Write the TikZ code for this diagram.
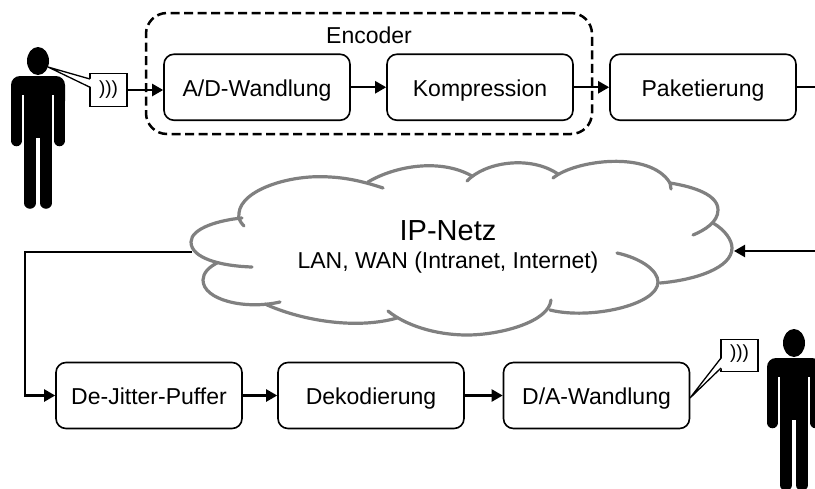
\documentclass[tikz,border=0pt]{standalone}
\usepackage{fontspec}
\setmainfont{Liberation Sans}
\usetikzlibrary{arrows.meta}
\tikzset{
  x=1pt,y=-1pt,
  procbox/.style={draw=black,line width=1.6pt,rounded corners=10pt,minimum width=186pt,minimum height=66pt,inner sep=0pt,text height=22pt,text depth=4.5pt,font=\fontsize{23}{26}\selectfont},
  flow/.style={line width=2.2pt,-{Triangle[length=11pt,width=12pt]}},
  plainflow/.style={line width=2.2pt},
  lobe/.style={draw=cloudgray,line width=3.2pt,line cap=round,line join=round},
  speaker/.style={draw=black,fill=white,line width=1.3pt},
  waves/.style={inner sep=0pt,font=\fontsize{19}{21}\selectfont},
  limb/.style={line width=11.5pt,line cap=round,draw=black}
}
\definecolor{cloudgray}{RGB}{128,128,128}
\newcommand{\drawperson}[2]{%
  \begin{scope}[shift={(#1,#2)}]
    \fill[black] (38,61) ellipse [x radius=11pt,y radius=14pt];
    \fill[black,rounded corners=9pt] (11,110) -- (11,76) -- (65,76) -- (65,110) -- cycle;
    \fill[white] (22,95) rectangle (24,115);
    \fill[white] (52,95) rectangle (54,115);
    \draw[limb] (16.5,100) -- (16.5,140.5);
    \draw[limb] (59.5,100) -- (59.5,140.5);
    \draw[limb] (30,130) -- (30,203);
    \draw[limb] (46,130) -- (46,203);
    \fill[black] (24,85) rectangle (52,138);
  \end{scope}}
\begin{document}
\begin{tikzpicture}
\useasboundingbox (0,0) rectangle (815,488);
\clip (0,0) rectangle (815,488);
\fill[white] (0,0) rectangle (815,488);

% persons
\drawperson{0}{0}
\drawperson{756}{282}

% encoder frame
\node[draw=black,line width=2.5pt,dash pattern=on 9pt off 4.5pt,rounded corners=21pt,minimum width=446pt,minimum height=121pt,inner sep=0pt] (encframe) at (369,73.5) {};
\node[anchor=base,inner sep=0pt,font=\fontsize{23}{26}\selectfont] (enclabel) at (369,43) {Encoder};

% process boxes
\node[procbox] (ad) at (257,87.25) {A/D-Wandlung};
\node[procbox] (komp) at (480,87.25) {Kompression};
\node[procbox] (paket) at (703,87.25) {Paketierung};
\node[procbox] (jitter) at (149,395.5) {De-Jitter-Puffer};
\node[procbox] (dek) at (371,395.5) {Dekodierung};
\node[procbox] (da) at (596.5,395.5) {D/A-Wandlung};

% cloud
\draw[lobe] (244,226) .. controls (240,222) and (238,218) .. (239,213) .. controls (241,190) and (290,174) .. (330,177) .. controls (350,178) and (368,183) .. (383,188);
\draw[lobe] (368,182) .. controls (395,166) and (440,158) .. (472,176);
\draw[lobe] (467,181) .. controls (485,162) and (530,155) .. (558,174);
\draw[lobe] (553,178) .. controls (575,160) and (650,150) .. (670,183);
\draw[lobe] (671,189) -- (670,183) .. controls (695,187) and (718,195) .. (718,210) .. controls (718,222) and (705,230) .. (693,235);
\draw[lobe] (713,223) .. controls (725,230) and (732,240) .. (732,248) .. controls (732,268) and (695,280) .. (660,283);
\draw[lobe] (617,253) .. controls (640,258) and (658,270) .. (658,282) .. controls (658,305) and (590,320) .. (550,310);
\draw[lobe] (551,300) .. controls (549,322) and (500,335) .. (467,335) .. controls (435,335) and (405,325) .. (388,311);
\draw[lobe] (397,318) .. controls (355,330) and (300,320) .. (265,304);
\draw[lobe] (280,302) .. controls (245,310) and (203,300) .. (203,280) .. controls (203,273) and (209,267) .. (217,263);
\draw[lobe] (252,267) .. controls (220,266) and (191,258) .. (191,242) .. controls (191,228) and (220,220) .. (242,218);
\node[anchor=base,inner sep=0pt,font=\fontsize{29}{32}\selectfont] (cloudtitle) at (448,240) {IP-Netz};
\node[anchor=base,inner sep=0pt,font=\fontsize{23}{26}\selectfont] (cloudsub) at (448,268) {LAN, WAN (Intranet, Internet)};
\coordinate (cloudW) at (192,252);
\coordinate (cloudE) at (734,251);
\coordinate (bendA) at (25,252);
\coordinate (bendB) at (25,395.5);
\coordinate (edgeE) at (815,251);
\coordinate (edgeN) at (815,87.25);

% speakers with callouts
\coordinate (mouthL) at (48,67);
\coordinate (mouthR) at (690,398);
\node[speaker,minimum width=37pt,minimum height=32.5pt,inner sep=0pt] (spkL) at (108.5,90) {};
\node[speaker,minimum width=37pt,minimum height=32.5pt,inner sep=0pt] (spkR) at (739.5,355.5) {};
\fill[white] (mouthL) -- (91,79) -- (91,87) -- cycle;
\draw[line width=1.3pt] (90,79) -- (mouthL) -- (90.5,87.5);
\fill[white] (mouthR) -- (722,358) -- (722,368) -- cycle;
\draw[line width=1.3pt] (721,358) -- (mouthR) -- (721,368);
\node[waves] (wavesL) at (spkL) {)))};
\node[waves] (wavesR) at (739.5,354) {)))};

% connectors
\draw[flow] (spkL.east) -- (spkL.east -| ad.west);
\draw[flow] (ad) -- (komp);
\draw[flow] (komp) -- (paket);
\draw[plainflow] (paket.east) -- (edgeN);
\draw[flow] (edgeE) -- (cloudE);
\draw[flow,line join=miter] (cloudW) -- (bendA) -- (bendB) -- (jitter.west);
\draw[flow] (jitter) -- (dek);
\draw[flow] (dek) -- (da);
\end{tikzpicture}
\end{document}
